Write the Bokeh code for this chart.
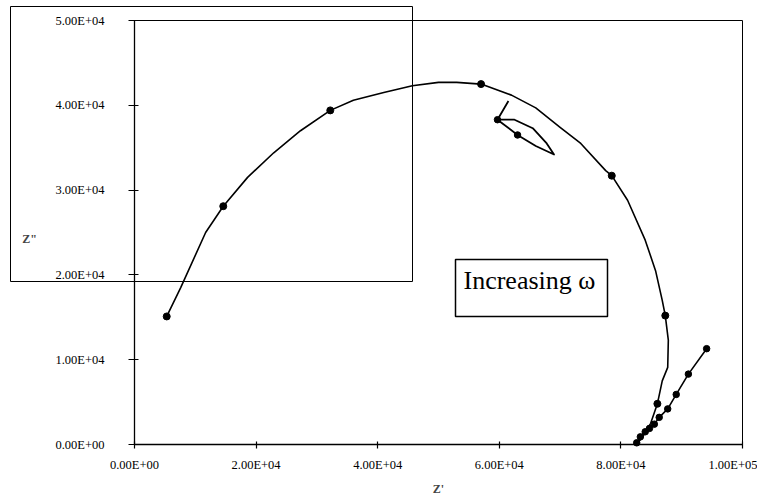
from bokeh.plotting import figure
from bokeh.models import Range1d, FixedTicker, LinearAxis, Label
from bokeh.embed import file_html
from bokeh.resources import INLINE

# ---- data ----
x_ticks = [0, 20000, 40000, 60000, 80000, 100000]
x_tick_labels = ["0.00E+00", "2.00E+04", "4.00E+04", "6.00E+04", "8.00E+04", "1.00E+05"]
y_ticks = [0, 10000, 20000, 30000, 40000, 50000]
y_tick_labels = ["0.00E+00", "1.00E+04", "2.00E+04", "3.00E+04", "4.00E+04", "5.00E+04"]

# main arc (Z', Z'')
arc_x = [5300, 7600, 11700, 14600, 18600, 22900, 27300, 32200, 36000, 41000,
         45700, 50000, 53000, 57000, 62000, 66000, 70000, 73400, 77500, 78500,
         81100, 84000, 85700, 86800, 87300, 87800, 87700, 86800, 86000, 84900,
         83500, 82600]
arc_y = [15100, 18500, 25000, 28100, 31500, 34400, 37000, 39400, 40600, 41500,
         42300, 42700, 42700, 42500, 41200, 39700, 37400, 35500, 32300, 31700,
         28800, 24100, 20500, 17000, 15200, 12300, 9100, 7500, 4800, 2500,
         800, 100]
arc_marker_x = [5300, 14600, 32200, 57000, 78500, 87300, 86000]
arc_marker_y = [15100, 28100, 39400, 42500, 31700, 15200, 4800]

# low-end branch
tail_x = [82600, 83200, 84000, 84700, 85500, 86300, 87700, 89100, 91100, 94100]
tail_y = [200, 900, 1500, 1900, 2400, 3200, 4200, 5900, 8300, 11300]

# small loop near the top of the arc
loop_x = [61500, 59700, 63000, 66000, 69000, 67800, 65500, 62500, 59700]
loop_y = [40500, 38300, 36500, 35200, 34200, 35500, 37300, 38300, 38300]
loop_marker_x = [59700, 63000]
loop_marker_y = [38300, 36500]

FONT = "Liberation Serif"

# layout: plot area spans pixels 134..742 (x) and 20..444 (y) of a 757x500 canvas
W, H = 757, 500
L, R, T, B = 134, 742, 20, 444
x0, x1 = x_ticks[0], x_ticks[-1]
y0, y1 = y_ticks[0], y_ticks[-1]
sx = (x1 - x0) / (R - L)
sy = (y1 - y0) / (B - T)


def px_x(px):
    return x0 + (px - L) * sx


def px_y(py):
    return y0 + (B - py) * sy


p = figure(width=W, height=H, output_backend="svg", toolbar_location=None,
           x_range=Range1d(px_x(0), px_x(W)), y_range=Range1d(px_y(H), px_y(0)),
           x_axis_location=None, y_axis_location=None, min_border=0)
p.background_fill_color = "white"
p.border_fill_color = "white"
p.outline_line_color = None
p.xgrid.visible = False
p.ygrid.visible = False

xaxis = LinearAxis(fixed_location=0, bounds=(x0, x1))
yaxis = LinearAxis(fixed_location=0, bounds=(y0, y1))
for ax, ticks, labels in ((xaxis, x_ticks, x_tick_labels), (yaxis, y_ticks, y_tick_labels)):
    ax.ticker = FixedTicker(ticks=ticks)
    ax.major_label_overrides = {t: l for t, l in zip(ticks, labels)}
    ax.minor_tick_line_color = None
    ax.axis_line_color = "black"
    ax.axis_line_width = 1.3
    ax.major_tick_line_color = "black"
    ax.major_tick_line_width = 1.2
    ax.major_label_text_font = FONT
    ax.major_label_text_font_size = "12.5px"
    ax.major_label_text_color = "black"
xaxis.major_tick_in = 3
xaxis.major_tick_out = 4
xaxis.major_label_standoff = 9
yaxis.major_tick_in = 4
yaxis.major_tick_out = 6
yaxis.major_label_standoff = 24
p.add_layout(xaxis, "below")
p.add_layout(yaxis, "left")

# plot-area border
p.quad(left=[x0], right=[x1], bottom=[y0], top=[y1], fill_color=None,
       line_color="black", line_width=1)

# stray rectangle of the scan
p.quad(left=[px_x(10)], right=[px_x(412)], bottom=[px_y(281)], top=[px_y(6)],
       fill_color=None, line_color="black", line_width=1)

# curves
p.line(arc_x, arc_y, line_color="black", line_width=1.6, line_join="round")
p.scatter(arc_marker_x, arc_marker_y, size=7, marker="circle", color="black")
p.line(tail_x, tail_y, line_color="black", line_width=1.6, line_join="round")
p.scatter(tail_x, tail_y, size=6.5, marker="circle", color="black")
p.line(loop_x, loop_y, line_color="black", line_width=1.8, line_join="round")
p.scatter(loop_marker_x, loop_marker_y, size=6.5, marker="circle", color="black")

# "Increasing omega" box
p.quad(left=[px_x(455)], right=[px_x(607)], bottom=[px_y(316)], top=[px_y(259)],
       fill_color="white", line_color="black", line_width=1.5)
p.add_layout(Label(x=px_x(463), y=px_y(280), text="Increasing \u03c9", text_font=FONT,
                   text_font_size="26px", text_color="black",
                   text_align="left", text_baseline="alphabetic"))

# axis titles
p.add_layout(Label(x=px_x(29), y=px_y(238), text='Z"', text_font=FONT, text_font_size="12px",
                   text_font_style="bold", text_align="center", text_baseline="middle"))
p.add_layout(Label(x=(x0 + x1) / 2, y=px_y(488), text="Z'", text_font=FONT, text_font_size="12px",
                   text_font_style="bold", text_align="center", text_baseline="middle"))

open("out.html", "w").write(file_html(p, INLINE))
